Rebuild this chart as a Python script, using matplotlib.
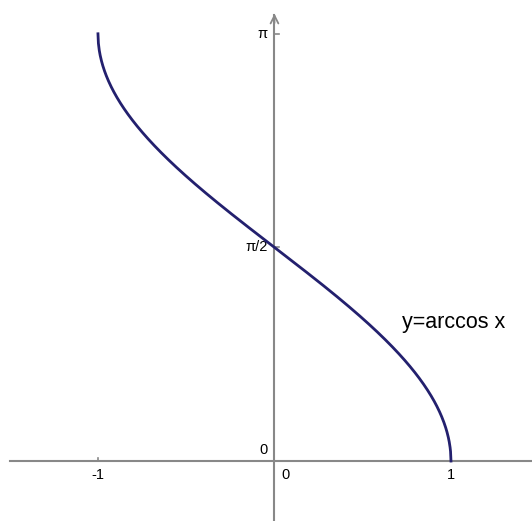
import numpy as np
import matplotlib.pyplot as plt

# arccos curve on [-1, 1]
x = np.linspace(-1, 1, 801)
y = np.arccos(x)

x_ticks = [-1, 1]
x_tick_labels = ["-1", "1"]
y_ticks = [np.pi / 2, np.pi]
y_tick_labels = ["π/2", "π"]

plt.rcParams['font.family'] = ['Liberation Sans', 'DejaVu Sans']

fig = plt.figure(figsize=(5.32, 5.21), dpi=100)
ax = fig.add_axes([0, 0, 1, 1])
ax.set_xlim(-1.555, 1.459)
ax.set_ylim(-0.441, 3.39)
ax.axis('off')

axis_col = '#888888'
# x axis
ax.plot([-1.499, 1.459], [0, 0], color=axis_col, lw=1.5, zorder=1)
# y axis with open arrow head
ax.plot([0, 0], [-0.441, 3.28], color=axis_col, lw=1.5, zorder=1)
ax.annotate('', xy=(0, 3.31), xytext=(0, 3.2),
            arrowprops=dict(arrowstyle='->', color=axis_col, lw=1.3,
                            mutation_scale=14))

# tick marks and labels
for xt, lab in zip(x_ticks, x_tick_labels):
    ax.plot([xt, xt], [0, 0.025], color=axis_col, lw=1.2)
    ax.text(xt, -0.05, lab, ha='center', va='top', fontsize=10.5)
for yt, lab in zip(y_ticks, y_tick_labels):
    ax.plot([0, 0.025], [yt, yt], color=axis_col, lw=1.2)
    ax.text(-0.04, yt, lab, ha='right', va='center', fontsize=10.5)
ax.text(-0.04, 0.03, "0", ha='right', va='bottom', fontsize=10.5)
ax.text(0.04, -0.05, "0", ha='left', va='top', fontsize=10.5)

ax.plot(x, y, color='#23206e', lw=2.0, zorder=3)
ax.text(0.722, 1.015, "y=arccos x", ha='left', va='center', fontsize=15.5)

plt.savefig('out.png', dpi=100)
